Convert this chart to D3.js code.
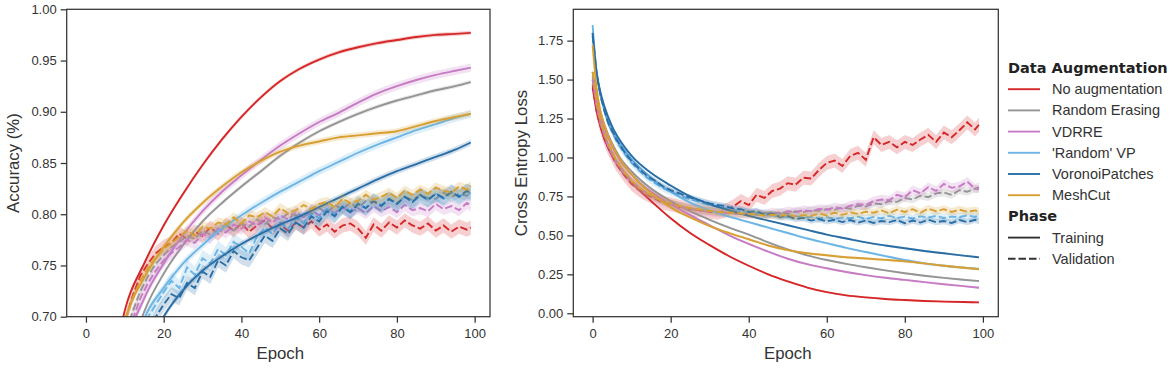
<!DOCTYPE html>
<html>
<head>
<meta charset="utf-8">
<script src="https://cdn.jsdelivr.net/npm/d3@7"></script>
<style>
  body { margin: 0; background: #fff; }
  svg { font-family: "Liberation Sans", Arial, sans-serif; }
</style>
</head>
<body>
<svg id="chart" width="1175" height="372"></svg>
<script>
// Training curves: accuracy and loss per augmentation.
const methodNames = ["No augmentation", "Random Erasing", "VDRRE", "'Random' VP", "VoronoiPatches", "MeshCut"];
const methodColors = ["#d62728", "#959595", "#c67bc4", "#6cb5e5", "#2a6ea6", "#d89f33"];
const phaseNames = ["Training", "Validation"];

const trainEpochs = [0, 1, 2, 3, 5, 7, 10, 15, 20, 25, 30, 35, 40, 45, 50, 55, 60, 65, 70, 75, 80, 85, 90, 95, 99];
const valEpochs = [0, 1, 2, 3, 4, 6, 8, 10, 12, 14, 16, 18, 20, 22, 24, 26, 28, 30, 32, 34, 36, 38, 40, 42, 44, 46,
  48, 50, 52, 54, 56, 58, 60, 62, 64, 66, 68, 70, 72, 74, 76, 78, 80, 82, 84, 86, 88, 90, 92, 94, 96, 98, 99];

const xTicks = [0, 20, 40, 60, 80, 100];
const accTicks = [0.70, 0.75, 0.80, 0.85, 0.90, 0.95, 1.00];
const lossTicks = [0.00, 0.25, 0.50, 0.75, 1.00, 1.25, 1.50, 1.75];

// accuracy, training
const accTrainNoAug = [0.30, 0.40, 0.47, 0.52, 0.60, 0.65, 0.706, 0.752, 0.789, 0.820, 0.848, 0.873, 0.895, 0.914, 0.930, 0.942, 0.951, 0.958, 0.963, 0.967, 0.970, 0.973, 0.975, 0.976, 0.977];
const accTrainErasing = [0.24, 0.32, 0.39, 0.44, 0.52, 0.58, 0.645, 0.705, 0.742, 0.770, 0.793, 0.811, 0.827, 0.842, 0.857, 0.870, 0.881, 0.890, 0.898, 0.905, 0.911, 0.916, 0.921, 0.925, 0.929];
const accTrainVdrre = [0.25, 0.34, 0.41, 0.46, 0.54, 0.60, 0.665, 0.718, 0.752, 0.780, 0.803, 0.822, 0.838, 0.853, 0.867, 0.879, 0.890, 0.899, 0.909, 0.918, 0.925, 0.931, 0.936, 0.940, 0.943];
const accTrainRandVp = [0.22, 0.30, 0.37, 0.42, 0.50, 0.56, 0.630, 0.698, 0.728, 0.752, 0.770, 0.786, 0.799, 0.811, 0.822, 0.832, 0.842, 0.851, 0.860, 0.868, 0.875, 0.882, 0.888, 0.894, 0.898];
const accTrainVoronoi = [0.20, 0.27, 0.33, 0.38, 0.46, 0.52, 0.590, 0.660, 0.700, 0.726, 0.745, 0.759, 0.771, 0.781, 0.790, 0.798, 0.807, 0.816, 0.825, 0.834, 0.842, 0.849, 0.856, 0.863, 0.870];
const accTrainMeshcut = [0.30, 0.40, 0.47, 0.52, 0.59, 0.64, 0.695, 0.738, 0.768, 0.792, 0.811, 0.827, 0.841, 0.852, 0.861, 0.867, 0.871, 0.875, 0.877, 0.879, 0.881, 0.886, 0.891, 0.895, 0.898];

// accuracy, validation
const accValNoAug = [0.30, 0.40, 0.46, 0.51, 0.55, 0.61, 0.66, 0.695, 0.720, 0.740,
  0.752, 0.762, 0.768, 0.772, 0.781, 0.776, 0.783, 0.779, 0.787, 0.781,
  0.790, 0.784, 0.791, 0.783, 0.789, 0.794, 0.786, 0.790, 0.784, 0.792,
  0.787, 0.793, 0.785, 0.790, 0.783, 0.789, 0.791, 0.786, 0.777, 0.790,
  0.784, 0.792, 0.787, 0.794, 0.789, 0.786, 0.791, 0.784, 0.789, 0.783,
  0.788, 0.785, 0.787];
const accValErasing = [0.30, 0.39, 0.45, 0.50, 0.54, 0.60, 0.645, 0.680, 0.705, 0.725,
  0.740, 0.752, 0.760, 0.768, 0.773, 0.779, 0.776, 0.784, 0.780, 0.786,
  0.789, 0.784, 0.791, 0.788, 0.795, 0.790, 0.797, 0.795, 0.801, 0.799,
  0.797, 0.804, 0.806, 0.801, 0.809, 0.805, 0.811, 0.806, 0.813, 0.812,
  0.809, 0.815, 0.811, 0.817, 0.814, 0.819, 0.816, 0.815, 0.821, 0.817,
  0.820, 0.818, 0.821];
const accValVdrre = [0.28, 0.37, 0.43, 0.48, 0.52, 0.58, 0.63, 0.670, 0.697, 0.718,
  0.733, 0.745, 0.755, 0.762, 0.768, 0.775, 0.772, 0.781, 0.777, 0.786,
  0.782, 0.790, 0.786, 0.793, 0.789, 0.797, 0.792, 0.799, 0.795, 0.802,
  0.797, 0.804, 0.799, 0.805, 0.801, 0.807, 0.802, 0.806, 0.801, 0.808,
  0.803, 0.807, 0.802, 0.809, 0.804, 0.806, 0.803, 0.810, 0.805, 0.808,
  0.804, 0.811, 0.809];
const accValRandVp = [0.22, 0.30, 0.36, 0.41, 0.45, 0.52, 0.575, 0.620, 0.655, 0.683,
  0.700, 0.712, 0.724, 0.735, 0.728, 0.748, 0.741, 0.757, 0.752, 0.766,
  0.760, 0.773, 0.768, 0.762, 0.778, 0.787, 0.781, 0.792, 0.786, 0.797,
  0.791, 0.801, 0.796, 0.805, 0.800, 0.808, 0.803, 0.811, 0.806, 0.813,
  0.809, 0.815, 0.810, 0.817, 0.812, 0.818, 0.814, 0.820, 0.815, 0.821,
  0.817, 0.822, 0.820];
const accValVoronoi = [0.20, 0.28, 0.34, 0.39, 0.43, 0.50, 0.555, 0.600, 0.635, 0.663,
  0.684, 0.700, 0.712, 0.722, 0.718, 0.733, 0.728, 0.744, 0.739, 0.755,
  0.750, 0.764, 0.758, 0.755, 0.767, 0.779, 0.774, 0.786, 0.781, 0.792,
  0.787, 0.798, 0.793, 0.803, 0.798, 0.807, 0.802, 0.810, 0.806, 0.813,
  0.808, 0.815, 0.810, 0.817, 0.812, 0.819, 0.814, 0.820, 0.816, 0.822,
  0.817, 0.823, 0.821];
const accValMeshcut = [0.33, 0.42, 0.48, 0.53, 0.57, 0.62, 0.665, 0.695, 0.718, 0.735,
  0.748, 0.758, 0.766, 0.772, 0.778, 0.784, 0.779, 0.788, 0.786, 0.792,
  0.790, 0.797, 0.791, 0.799, 0.797, 0.802, 0.798, 0.806, 0.801, 0.804,
  0.809, 0.805, 0.810, 0.812, 0.807, 0.815, 0.811, 0.813, 0.819, 0.814,
  0.817, 0.821, 0.816, 0.823, 0.819, 0.824, 0.820, 0.826, 0.823, 0.821,
  0.827, 0.824, 0.828];

// loss, training
const lossTrainNoAug = [1.45, 1.30, 1.20, 1.12, 1.01, 0.93, 0.84, 0.72, 0.61, 0.515, 0.437, 0.366, 0.305, 0.250, 0.205, 0.165, 0.136, 0.115, 0.102, 0.092, 0.085, 0.079, 0.075, 0.072, 0.070];
const lossTrainErasing = [1.55, 1.40, 1.29, 1.21, 1.09, 1.00, 0.91, 0.80, 0.72, 0.655, 0.60, 0.55, 0.505, 0.455, 0.410, 0.372, 0.342, 0.317, 0.295, 0.275, 0.257, 0.241, 0.227, 0.215, 0.207];
const lossTrainVdrre = [1.50, 1.37, 1.27, 1.19, 1.07, 0.98, 0.89, 0.78, 0.70, 0.63, 0.565, 0.50, 0.445, 0.395, 0.350, 0.315, 0.289, 0.265, 0.245, 0.228, 0.214, 0.200, 0.186, 0.174, 0.164];
const lossTrainRandVp = [1.85, 1.55, 1.40, 1.31, 1.18, 1.09, 0.99, 0.87, 0.78, 0.71, 0.66, 0.62, 0.585, 0.550, 0.515, 0.480, 0.450, 0.420, 0.393, 0.367, 0.342, 0.320, 0.305, 0.293, 0.285];
const lossTrainVoronoi = [1.80, 1.55, 1.42, 1.33, 1.20, 1.11, 1.01, 0.90, 0.82, 0.75, 0.70, 0.66, 0.625, 0.595, 0.565, 0.535, 0.505, 0.480, 0.455, 0.435, 0.417, 0.400, 0.385, 0.370, 0.359];
const lossTrainMeshcut = [1.72, 1.45, 1.30, 1.21, 1.08, 0.99, 0.89, 0.77, 0.68, 0.615, 0.56, 0.515, 0.475, 0.435, 0.405, 0.385, 0.372, 0.360, 0.352, 0.343, 0.333, 0.320, 0.305, 0.292, 0.283];

// loss, validation
const lossValNoAug = [1.47, 1.30, 1.20, 1.12, 1.06, 0.96, 0.89, 0.83, 0.79, 0.76,
  0.735, 0.710, 0.700, 0.685, 0.672, 0.665, 0.660, 0.652, 0.645, 0.660,
  0.685, 0.720, 0.695, 0.760, 0.740, 0.785, 0.800, 0.835, 0.825, 0.870,
  0.865, 0.920, 0.965, 0.980, 0.945, 1.010, 1.030, 0.985, 1.130, 1.080,
  1.100, 1.065, 1.100, 1.080, 1.115, 1.145, 1.100, 1.160, 1.130, 1.175,
  1.225, 1.180, 1.210];
const lossValErasing = [1.52, 1.34, 1.23, 1.15, 1.08, 0.98, 0.91, 0.85, 0.805, 0.770,
  0.742, 0.720, 0.703, 0.690, 0.678, 0.668, 0.660, 0.655, 0.650, 0.645,
  0.642, 0.638, 0.640, 0.630, 0.645, 0.635, 0.650, 0.640, 0.655, 0.650,
  0.660, 0.658, 0.668, 0.665, 0.678, 0.672, 0.690, 0.685, 0.705, 0.700,
  0.720, 0.715, 0.740, 0.730, 0.755, 0.745, 0.770, 0.775, 0.760, 0.790,
  0.780, 0.800, 0.795];
const lossValVdrre = [1.50, 1.33, 1.22, 1.14, 1.07, 0.97, 0.90, 0.845, 0.800, 0.765,
  0.740, 0.715, 0.700, 0.685, 0.675, 0.665, 0.660, 0.652, 0.648, 0.645,
  0.640, 0.638, 0.635, 0.645, 0.632, 0.648, 0.640, 0.655, 0.648, 0.662,
  0.655, 0.670, 0.665, 0.680, 0.672, 0.690, 0.700, 0.695, 0.720, 0.730,
  0.725, 0.760, 0.745, 0.790, 0.770, 0.810, 0.785, 0.830, 0.805, 0.815,
  0.845, 0.800, 0.810];
const lossValRandVp = [1.80, 1.55, 1.40, 1.30, 1.22, 1.11, 1.03, 0.965, 0.915, 0.870,
  0.835, 0.805, 0.780, 0.760, 0.740, 0.725, 0.710, 0.695, 0.685, 0.675,
  0.665, 0.655, 0.650, 0.642, 0.635, 0.628, 0.622, 0.618, 0.625, 0.612,
  0.620, 0.608, 0.618, 0.605, 0.615, 0.610, 0.620, 0.605, 0.618, 0.610,
  0.625, 0.612, 0.620, 0.608, 0.622, 0.615, 0.625, 0.612, 0.620, 0.618,
  0.628, 0.620, 0.625];
const lossValVoronoi = [1.78, 1.54, 1.40, 1.30, 1.22, 1.12, 1.04, 0.975, 0.925, 0.880,
  0.850, 0.815, 0.790, 0.772, 0.750, 0.735, 0.720, 0.705, 0.695, 0.688,
  0.672, 0.668, 0.650, 0.655, 0.632, 0.640, 0.618, 0.625, 0.605, 0.612,
  0.595, 0.605, 0.590, 0.600, 0.585, 0.598, 0.582, 0.595, 0.580, 0.592,
  0.585, 0.598, 0.578, 0.595, 0.582, 0.600, 0.585, 0.592, 0.580, 0.598,
  0.585, 0.600, 0.592];
const lossValMeshcut = [1.55, 1.36, 1.24, 1.16, 1.09, 0.985, 0.91, 0.85, 0.805, 0.770,
  0.745, 0.722, 0.705, 0.690, 0.680, 0.670, 0.665, 0.658, 0.652, 0.648,
  0.645, 0.640, 0.638, 0.635, 0.628, 0.633, 0.625, 0.632, 0.622, 0.630,
  0.625, 0.640, 0.628, 0.645, 0.632, 0.648, 0.638, 0.652, 0.645, 0.660,
  0.642, 0.665, 0.650, 0.668, 0.645, 0.672, 0.655, 0.668, 0.650, 0.665,
  0.652, 0.660, 0.652];

// half-width of the shaded spread, one per method
const accTrainSpread = [0.002, 0.002, 0.004, 0.004, 0.003, 0.003];
const accValSpread = [0.007, 0.005, 0.006, 0.008, 0.007, 0.005];
const lossTrainSpread = [0.006, 0.006, 0.006, 0.008, 0.006, 0.008];
const lossValSpread = [0.045, 0.025, 0.03, 0.025, 0.02, 0.025];

const lineWidth = 1.9;
const dashPattern = "7.5,3";

const svg = d3.select("#chart");
const plotTop = 9.3, plotH = 307.4;

function drawPanel(cfg) {
    const g = svg.append("g").attr("transform", `translate(${cfg.left},${plotTop})`);

    const x = d3.scaleLinear().domain([-4.95, 103.95]).range([0, cfg.width]);
    const y = d3.scaleLinear().domain(cfg.yDomain).range([plotH, 0]);

    g.append("clipPath").attr("id", cfg.id + "-clip")
        .append("rect").attr("width", cfg.width).attr("height", plotH);

    const body = g.append("g").attr("clip-path", `url(#${cfg.id}-clip)`);

    methodNames.forEach((name, i) => {
        const phases = [
            { epochs: trainEpochs, vals: cfg.train[i], spread: cfg.trainSpread[i], dash: null, curve: d3.curveMonotoneX },
            { epochs: valEpochs, vals: cfg.val[i], spread: cfg.valSpread[i], dash: dashPattern, curve: d3.curveLinear }
        ];
        phases.forEach(p => {
            const pts = p.epochs.map((e, k) => ({ e, v: p.vals[k] }));
            body.append("path")
                .datum(pts)
                .attr("fill", methodColors[i])
                .attr("fill-opacity", 0.22)
                .attr("d", d3.area()
                    .x(d => x(d.e))
                    .y0(d => y(d.v - p.spread))
                    .y1(d => y(d.v + p.spread))
                    .curve(p.curve));
            body.append("path")
                .datum(pts)
                .attr("fill", "none")
                .attr("stroke", methodColors[i])
                .attr("stroke-width", lineWidth)
                .attr("stroke-dasharray", p.dash)
                .attr("d", d3.line().x(d => x(d.e)).y(d => y(d.v)).curve(p.curve));
        });
    });

    // Axes
    const xAxis = g.append("g")
        .attr("transform", `translate(0,${plotH})`)
        .call(d3.axisBottom(x).tickValues(xTicks).tickSize(6).tickPadding(6));
    const yAxis = g.append("g")
        .call(d3.axisLeft(y).tickValues(cfg.ticks).tickFormat(d3.format(".2f")).tickSize(6).tickPadding(4));
    [xAxis, yAxis].forEach(a => {
        a.select(".domain").remove();
        a.selectAll("line").attr("stroke", "#333").attr("stroke-width", 1.25);
        a.selectAll("text").attr("fill", "#333").attr("font-size", "13px")
            .attr("font-family", "'Liberation Sans', Arial, sans-serif");
    });

    g.append("rect")
        .attr("width", cfg.width).attr("height", plotH)
        .attr("fill", "none").attr("stroke", "#333").attr("stroke-width", 1.25);

    g.append("text")
        .attr("x", x(50))
        .attr("y", 349.5)
        .attr("text-anchor", "middle")
        .attr("font-size", "16.8px").attr("fill", "#333")
        .text("Epoch");

    g.append("text")
        .attr("transform", `translate(${cfg.labelX - cfg.left},${plotH / 2}) rotate(-90)`)
        .attr("text-anchor", "middle")
        .attr("dominant-baseline", "central")
        .attr("font-size", "16.8px").attr("fill", "#333")
        .text(cfg.label);
}

drawPanel({
    id: "acc", left: 66.7, width: 423.3, yDomain: [0.70, 1.00], ticks: accTicks,
    train: [accTrainNoAug, accTrainErasing, accTrainVdrre, accTrainRandVp, accTrainVoronoi, accTrainMeshcut],
    val: [accValNoAug, accValErasing, accValVdrre, accValRandVp, accValVoronoi, accValMeshcut],
    trainSpread: accTrainSpread, valSpread: accValSpread,
    label: "Accuracy (%)", labelX: 14
});

drawPanel({
    id: "loss", left: 573.3, width: 425, yDomain: [-0.022, 1.951], ticks: lossTicks,
    train: [lossTrainNoAug, lossTrainErasing, lossTrainVdrre, lossTrainRandVp, lossTrainVoronoi, lossTrainMeshcut],
    val: [lossValNoAug, lossValErasing, lossValVdrre, lossValRandVp, lossValVoronoi, lossValMeshcut],
    trainSpread: lossTrainSpread, valSpread: lossValSpread,
    label: "Cross Entropy Loss", labelX: 521.7
});

// Legend
const legend = svg.append("g").attr("transform", "translate(1008,68)");
const rowH = 21.2;
const rows = [{ title: "Data Augmentation" }]
    .concat(methodNames.map((n, i) => ({ label: n, color: methodColors[i], dash: null })))
    .concat([{ title: "Phase" }])
    .concat(phaseNames.map((n, i) => ({ label: n, color: "#333", dash: i ? dashPattern : null })));

rows.forEach((r, k) => {
    const row = legend.append("g").attr("transform", `translate(0,${k * rowH})`);
    if (r.title) {
        row.append("text")
            .attr("dominant-baseline", "central")
            .attr("font-family", "'DejaVu Sans', sans-serif")
            .attr("font-weight", "bold")
            .attr("font-size", "14.5px").attr("fill", "#222")
            .text(r.title);
    } else {
        row.append("line")
            .attr("x1", 0).attr("x2", 32)
            .attr("stroke", r.color).attr("stroke-width", lineWidth)
            .attr("stroke-dasharray", r.dash);
        row.append("text")
            .attr("x", 44)
            .attr("dominant-baseline", "central")
            .attr("font-size", "14.5px").attr("fill", "#333")
            .text(r.label);
    }
});
</script>
</body>
</html>
